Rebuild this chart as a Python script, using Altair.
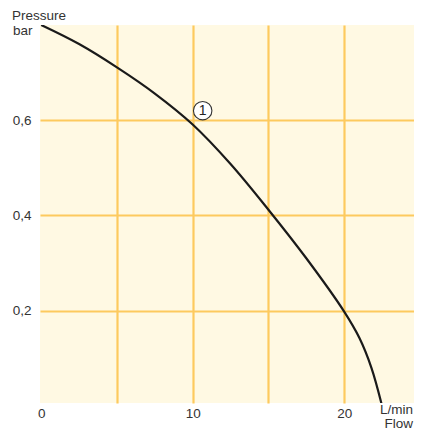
import altair as alt
import pandas as pd

# Curve values
flow = [0, 2.5, 5, 7.5, 10, 12.5, 15, 17.5, 20, 21.0, 21.8, 22.5]
pressure = [0.80, 0.76, 0.711, 0.656, 0.591, 0.508, 0.412, 0.31, 0.198, 0.143, 0.08, 0.0]

x_grid = [0, 5, 10, 15, 20]
y_ticks = [0.2, 0.4, 0.6]

marker_label = ["1"]
marker_flow = [10.66]
marker_pressure = [0.62]

FONT = "Liberation Sans"
GRID = "#FDCA5E"
BG = "#FFF9E3"
TXT = "#333333"

curve = pd.DataFrame({"flow": flow, "pressure": pressure})
marker = pd.DataFrame({"label": marker_label, "flow": marker_flow, "pressure": marker_pressure})

xscale = alt.Scale(domain=[-0.08, 24.61], nice=False, zero=False)
yscale = alt.Scale(domain=[0.006, 0.8], nice=False, zero=False)

xaxis = alt.Axis(
    values=x_grid,
    labelExpr="(datum.value % 10 === 0) ? datum.label : ''",
    grid=True,
    gridColor={"condition": {"test": "datum.value === 0", "value": "transparent"}, "value": GRID},
    gridWidth=2.2,
    domain=False,
    ticks=False,
    labelPadding=3,
    labelFont=FONT,
    labelFontSize=13.5,
    labelColor=TXT,
    title=None,
)
yaxis = alt.Axis(
    values=y_ticks,
    labelExpr="replace(format(datum.value, '.1f'), '.', ',')",
    grid=True,
    gridColor=GRID,
    gridWidth=2.2,
    domain=False,
    ticks=False,
    labelPadding=9,
    labelFont=FONT,
    labelFontSize=13.5,
    labelColor=TXT,
    title=None,
)

line = alt.Chart(curve).mark_line(
    color="#1a1a1a", strokeWidth=2.2, interpolate="catmull-rom", clip=True
).encode(
    x=alt.X("flow:Q", scale=xscale, axis=xaxis),
    y=alt.Y("pressure:Q", scale=yscale, axis=yaxis),
)

circle = alt.Chart(marker).mark_point(
    shape="circle", filled=True, fill="white", stroke="#333333", strokeWidth=1.1, size=340, opacity=1
).encode(
    x=alt.X("flow:Q", scale=xscale),
    y=alt.Y("pressure:Q", scale=yscale),
)
circle_text = alt.Chart(marker).mark_text(
    font=FONT, fontSize=14, color="#222222", baseline="middle", align="center", dy=0.5
).encode(
    x=alt.X("flow:Q", scale=xscale),
    y=alt.Y("pressure:Q", scale=yscale),
    text="label:N",
)

def label(txt, x, y, align, size=13.5):
    return alt.Chart(pd.DataFrame({"t": [txt]})).mark_text(
        font=FONT, fontSize=size, color=TXT, align=align, baseline="alphabetic"
    ).encode(text="t:N", x=alt.value(x), y=alt.value(y))

texts = [
    label("Pressure", -28, -5, "left"),
    label("bar", -27, 10, "left"),
    label("L/min", 373, 389, "right"),
    label("Flow", 373, 403, "right"),
]

chart = alt.layer(line, circle, circle_text, *texts).properties(
    width=374,
    height=378,
    autosize=alt.AutoSizeParams(type="none"),
    padding={"left": 32, "top": 17, "right": 0, "bottom": 29},
).configure_view(
    fill=BG, stroke=None
)

chart.save("out.html", embed_options={"renderer": "svg", "actions": False})
